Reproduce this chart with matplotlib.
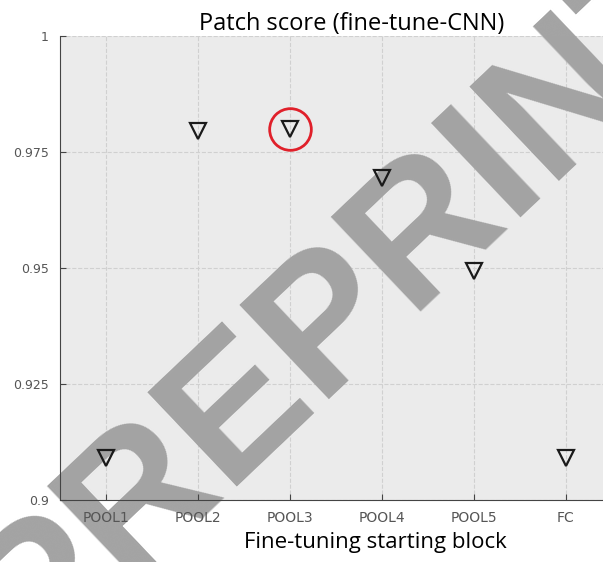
import matplotlib
matplotlib.use('Agg')
import matplotlib.pyplot as plt

# Fine-tuning starting blocks and their patch scores
blocks = ['POOL1', 'POOL2', 'POOL3', 'POOL4', 'POOL5', 'FC']
scores = [0.909, 0.9795, 0.980, 0.9695, 0.9495, 0.909]
best = 2  # POOL3 is highlighted
y_ticks = [0.9, 0.925, 0.95, 0.975, 1.0]
y_tick_labels = ['0.9', '0.925', '0.95', '0.975', '1']

fig = plt.figure(figsize=(6.03, 5.62), dpi=100)
ax = fig.add_axes([0.0995, 0.110, 0.9154, 0.8256])
ax.set_facecolor('#ebebeb')

x = list(range(1, len(blocks) + 1))
ax.plot(x, scores, linestyle='none', marker='v', markersize=11,
        markerfacecolor='none', markeredgecolor='#1a1a1a', markeredgewidth=1.6,
        zorder=4)

# red circle around the best score
ax.plot(x[best], scores[best], linestyle='none', marker='o', markersize=30,
        markerfacecolor='none', markeredgecolor='#e0202a', markeredgewidth=2,
        zorder=4)

ax.set_xlim(0.5, 6.5)
ax.set_ylim(0.9, 1.0)
ax.set_xticks(x)
ax.set_xticklabels(blocks)
ax.set_yticks(y_ticks)
ax.set_yticklabels(y_tick_labels)
ax.tick_params(direction='in', length=4, color='#444444', labelcolor='#555555')
ax.tick_params(axis='x', labelsize=10, pad=8)
ax.tick_params(axis='y', labelsize=9, pad=8)
ax.set_axisbelow(False)  # tick labels stay above the watermark

# dashed grid drawn by hand so it stays under the watermark
for yt in y_ticks:
    ax.axhline(yt, linestyle='--', color='#d0d0d0', linewidth=0.8, zorder=1)
for xv in x:
    ax.axvline(xv, linestyle='--', color='#d0d0d0', linewidth=0.8, zorder=1)

for side in ['top', 'right']:
    ax.spines[side].set_visible(False)
for side in ['left', 'bottom']:
    ax.spines[side].set_color('#444444')

ax.set_title('Patch score (fine-tune-CNN)', fontsize=17, family='Open Sans',
             x=0.528, pad=4)
ax.set_xlabel('Fine-tuning starting block', fontsize=16, family='Open Sans',
              x=0.571, labelpad=5)

# watermark, under the markers
ax.text(33 / 603, -106 / 562, 'PREPRINT', transform=fig.transFigure,
        fontsize=137, fontweight='bold', family='Liberation Sans', color='#a3a3a3',
        rotation=43.5, rotation_mode='anchor', ha='left', va='baseline',
        clip_on=False, zorder=2)

fig.savefig('out.png', dpi=100)
